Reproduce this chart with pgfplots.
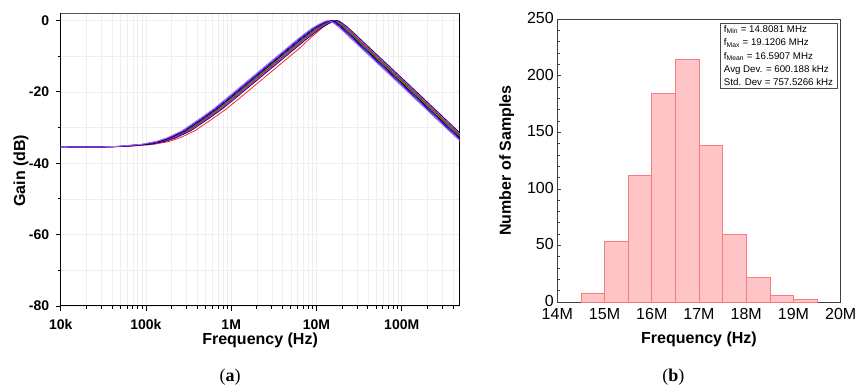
\documentclass[border=0pt]{standalone}
\usepackage{fontspec}
\setmainfont{Liberation Sans}
\newfontfamily\capfont{Liberation Serif}
\usepackage{pgfplots}
\pgfplotsset{compat=1.18}
\usepackage{pgfplotstable}

\definecolor{gridc}{gray}{0.935}
\definecolor{cA}{rgb}{0.62,0.48,0.95}
\definecolor{cB}{rgb}{0.50,0.00,0.80}
\definecolor{cC}{rgb}{0.00,0.00,1.00}
\definecolor{cD}{rgb}{0.00,0.00,0.00}
\definecolor{cE}{rgb}{0.55,0.45,0.00}
\definecolor{cF}{rgb}{0.00,0.55,0.00}
\definecolor{cG}{rgb}{0.80,0.00,0.80}
\definecolor{cH}{rgb}{0.85,0.50,0.00}
\definecolor{cI}{rgb}{0.00,0.00,0.55}
\definecolor{cR}{rgb}{1.00,0.10,0.10}
\definecolor{histfill}{RGB}{255,196,198}
\definecolor{histdraw}{RGB}{245,125,130}

% Gain (dB) of each Monte-Carlo run versus frequency (Hz)
\pgfplotstableread{
db fa fb fc fd fe ff fg fh fi fr
-35.5 0.01e6 0.01e6 0.01e6 0.01e6 0.01e6 0.01e6 0.01e6 0.01e6 0.01e6 0.01e6
-35.45 0.03e6 0.03e6 0.03e6 0.03e6 0.03e6 0.03e6 0.03e6 0.03e6 0.03e6 0.03e6
-35.3 0.044e6 0.0455e6 0.047e6 0.0485e6 0.05e6 0.0515e6 0.053e6 0.0545e6 0.056e6 0.0625e6
-34.7 0.088e6 0.091e6 0.094e6 0.097e6 0.1e6 0.103e6 0.106e6 0.109e6 0.112e6 0.125e6
-33.9 0.132e6 0.1365e6 0.141e6 0.1455e6 0.15e6 0.1545e6 0.159e6 0.1635e6 0.168e6 0.1875e6
-32.9 0.176e6 0.182e6 0.188e6 0.194e6 0.2e6 0.206e6 0.212e6 0.218e6 0.224e6 0.25e6
-30.9 0.264e6 0.273e6 0.282e6 0.291e6 0.3e6 0.309e6 0.318e6 0.327e6 0.336e6 0.375e6
-27.3 0.44e6 0.455e6 0.47e6 0.485e6 0.5e6 0.515e6 0.53e6 0.545e6 0.56e6 0.625e6
-24.8 0.616e6 0.637e6 0.658e6 0.679e6 0.7e6 0.721e6 0.742e6 0.763e6 0.784e6 0.875e6
-21.8 0.88e6 0.91e6 0.94e6 0.97e6 1e6 1.03e6 1.06e6 1.09e6 1.12e6 1.25e6
-15.8 1.76e6 1.82e6 1.88e6 1.94e6 2e6 2.06e6 2.12e6 2.18e6 2.24e6 2.5e6
-7.9 4.4e6 4.55e6 4.7e6 4.85e6 5e6 5.15e6 5.3e6 5.45e6 5.6e6 6.25e6
-5.0 6.16e6 6.37e6 6.58e6 6.79e6 7e6 7.21e6 7.42e6 7.63e6 7.84e6 8.4e6
-2.2 8.8e6 9.1e6 9.4e6 9.7e6 10e6 10.3e6 10.6e6 10.9e6 11.2e6 11.5e6
-1.1 10.56e6 10.92e6 11.28e6 11.64e6 12e6 12.36e6 12.72e6 13.08e6 13.44e6 13.2e6
-0.3 12.32e6 12.74e6 13.16e6 13.58e6 14e6 14.42e6 14.84e6 15.26e6 15.68e6 14.98e6
0 13.728e6 14.196e6 14.664e6 15.132e6 15.6e6 16.068e6 16.536e6 17.004e6 17.472e6 16.38e6
-0.35 14.96e6 15.47e6 15.98e6 16.49e6 17e6 17.51e6 18.02e6 18.53e6 19.04e6 17.68e6
-1.6 17.6e6 18.2e6 18.8e6 19.4e6 20e6 20.6e6 21.2e6 21.8e6 22.4e6 20.8e6
-3.7 22e6 22.75e6 23.5e6 24.25e6 25e6 25.75e6 26.5e6 27.25e6 28e6 26e6
-5.5 26.4e6 27.3e6 28.2e6 29.1e6 30e6 30.9e6 31.8e6 32.7e6 33.6e6 31.2e6
-8.3 35.2e6 36.4e6 37.6e6 38.8e6 40e6 41.2e6 42.4e6 43.6e6 44.8e6 41.6e6
-11.4 48.4e6 50.05e6 51.7e6 53.35e6 55e6 56.65e6 58.3e6 59.95e6 61.6e6 57.2e6
-17.2 88e6 91e6 94e6 97e6 100e6 103e6 106e6 109e6 112e6 104e6
-24.0 176e6 182e6 188e6 194e6 200e6 206e6 212e6 218e6 224e6 208e6
-30.8 352e6 364e6 376e6 388e6 400e6 412e6 424e6 436e6 448e6 416e6
-34.0 492.8e6 509.6e6 526.4e6 543.2e6 560e6 576.8e6 593.6e6 610.4e6 627.2e6 582.4e6
}\gaindata

% Histogram of centre frequencies: left bin edge (Hz), count
\pgfplotstableread{
f n
14.5e6 8
15.0e6 54
15.5e6 112
16.0e6 184
16.5e6 214
17.0e6 138
17.5e6 60
18.0e6 22
18.5e6 6
19.0e6 2
19.5e6 2
}\histdata

\begin{document}
\begin{tikzpicture}
\path[use as bounding box] (0,0) rectangle (857pt,-387pt);

\begin{axis}[
  at={(60.7pt,-306pt)}, anchor=south west, scale only axis,
  width=398.8pt, height=292.7pt,
  xmode=log, xmin=1e4, xmax=4.76e8, ymin=-80, ymax=2,
  xtick={1e4,1e5,1e6,1e7,1e8}, xticklabels={10k,100k,1M,10M,100M},
  minor xtick={2e4,3e4,4e4,5e4,6e4,7e4,8e4,9e4,2e5,3e5,4e5,5e5,6e5,7e5,8e5,9e5,2e6,3e6,4e6,5e6,6e6,7e6,8e6,9e6,2e7,3e7,4e7,5e7,6e7,7e7,8e7,9e7,2e8,3e8,4e8},
  ytick={-80,-60,-40,-20,0}, yticklabels={-80,-60,-40,-20,0},
  minor ytick={-70,-50,-30,-10},
  tick align=outside, xtick pos=left, ytick pos=left,
  major tick length=5pt, minor tick length=3pt,
  xmajorgrids, xminorgrids, ymajorgrids, yminorgrids,
  grid style={gridc, line width=0.5pt},
  minor grid style={gridc, line width=0.5pt},
  axis line style={line width=1pt, black},
  tick style={black, line width=0.9pt},
  ticklabel style={font=\fontsize{14}{16}\selectfont\bfseries},
  xticklabel style={yshift=-5pt},
  yticklabel style={xshift=-3pt},
  xlabel={Frequency (Hz)}, ylabel={Gain (dB)},
  label style={font=\fontsize{16}{18}\selectfont\bfseries},
  xlabel style={at={(axis description cs:0.5,0)}, anchor=north, yshift=-23.5pt},
  ylabel style={at={(axis description cs:-0.0996,0.462)}, anchor=center},
  every axis plot/.append style={line width=0.75pt},
]
\addplot[cR] table[x=fr, y=db] {\gaindata};
\addplot[cH] table[x=fh, y=db] {\gaindata};
\addplot[cE] table[x=fe, y=db] {\gaindata};
\addplot[cF] table[x=ff, y=db] {\gaindata};
\addplot[cD] table[x=fd, y=db] {\gaindata};
\addplot[cG] table[x=fg, y=db] {\gaindata};
\addplot[cI] table[x=fi, y=db] {\gaindata};
\addplot[cC] table[x=fc, y=db] {\gaindata};
\addplot[cB] table[x=fb, y=db] {\gaindata};
\addplot[cA] table[x=fa, y=db] {\gaindata};
\draw[black!65, line width=1pt] (rel axis cs:0,1) -- (rel axis cs:1,1);
\end{axis}

\begin{axis}[
  at={(557.3pt,-302pt)}, anchor=south west, scale only axis,
  width=283.4pt, height=283pt,
  xmin=14e6, xmax=20e6, ymin=0, ymax=250,
  scaled x ticks=false,
  xtick={14e6,15e6,16e6,17e6,18e6,19e6,20e6},
  xticklabels={14M,15M,16M,17M,18M,19M,20M},
  minor xtick={14.5e6,15.5e6,16.5e6,17.5e6,18.5e6,19.5e6},
  ytick={0,50,100,150,200,250}, minor y tick num=4,
  tick align=inside, xtick pos=left, ytick pos=left,
  major tick length=4pt, minor tick length=2.5pt,
  axis line style={line width=0.8pt, black!75},
  tick style={black!75, line width=0.6pt},
  ticklabel style={font=\fontsize{16}{18}\selectfont},
  xticklabel style={yshift=-3pt},
  yticklabel style={yshift=1pt},
  /pgf/number format/assume math mode=true,
  xlabel={Frequency (Hz)}, ylabel={Number of Samples},
  label style={font=\fontsize{16}{18}\selectfont\bfseries},
  xlabel style={at={(axis description cs:0.5,0)}, anchor=north, yshift=-26pt},
  ylabel style={at={(axis description cs:-0.1786,0.5)}, anchor=center},
]
\addplot[ybar interval, fill=histfill, draw=histdraw, line width=0.7pt] table[x=f, y=n] {\histdata};
\node[draw=black!70, line width=0.6pt, fill=white, anchor=north east, align=left,
      inner xsep=4pt, inner ysep=2.5pt, font=\fontsize{9.7}{13.3}\selectfont]
  at (rel axis cs:0.988,0.987)
  {f\textsubscript{Min} = 14.8081 MHz\\
   f\textsubscript{Max} = 19.1206 MHz\\
   f\textsubscript{Mean} = 16.5907 MHz\\
   Avg Dev. = 600.188 kHz\\
   Std. Dev = 757.5266 kHz};
\end{axis}

\node[font=\capfont\fontsize{18}{20}\selectfont] at (230pt,-376.7pt) {(\textbf{a})};
\node[font=\capfont\fontsize{18}{20}\selectfont] at (673.3pt,-376.7pt) {(\textbf{b})};
\end{tikzpicture}
\end{document}
